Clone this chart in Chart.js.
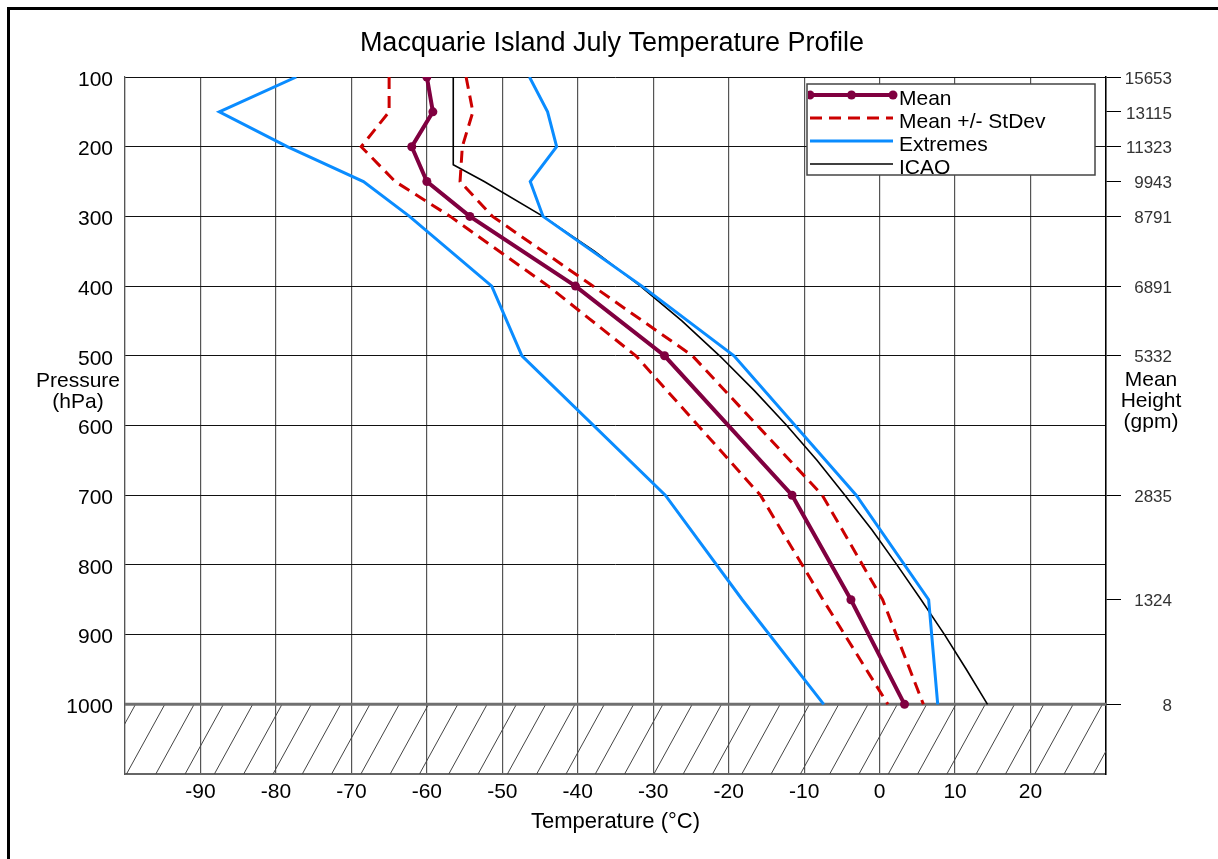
<!DOCTYPE html>
<html>
<head>
<meta charset="utf-8">
<script src="https://cdn.jsdelivr.net/npm/chart.js@4.4.1/dist/chart.umd.min.js"></script>
<style>
html,body{margin:0;padding:0;background:#fff;}
#wrap{position:relative;width:1218px;height:859px;overflow:hidden;background:#fff;}
#frame{position:absolute;left:7px;top:7px;width:3000px;height:3000px;border-top:3px solid #000;border-left:3px solid #000;pointer-events:none;}
canvas{position:absolute;left:0;top:0;}
</style>
</head>
<body>
<div id="wrap"><canvas id="c" width="1218" height="859"></canvas><div id="frame"></div></div>
<script>
// ---- data ----
const levels      = [100, 150, 200, 250, 300, 400, 500, 700, 850, 1000];   // hPa
const meanT       = [-60.0, -59.2, -62.0, -60.0, -54.3, -40.3, -28.5, -11.6, -3.8, 3.3];
const minusSdT    = [-65.0, -65.0, -68.7, -64.2, -56.9, -43.9, -32.3, -15.8, -7.5, 1.1];
const plusSdT     = [-54.8, -53.9, -55.3, -55.6, -51.3, -38.0, -24.8, -7.6, 0.4, 5.8];
const extremeLowT = [-77.3, -87.5, -78.5, -68.4, -62.3, -51.4, -47.4, -28.4, -18.2, -7.4];
const extremeHighT= [-46.4, -44.0, -42.8, -46.3, -44.6, -31.5, -19.3, -3.1, 6.5, 7.7];
const icaoP       = [100, 150, 200, 226, 250, 300, 350, 400, 450, 500, 550, 600, 650, 700, 750, 800, 850, 900, 950, 1000];
const icaoT       = [-56.5, -56.5, -56.5, -56.5, -52.4, -44.6, -37.8, -31.7, -26.2, -21.2, -16.6, -12.3, -8.3, -4.6, -1.0, 2.3, 5.5, 8.6, 11.5, 14.3];
const heightLevels = [100, 150, 200, 250, 300, 400, 500, 700, 850, 1000];
const heightLabels = ['15653', '13115', '11323', '9943', '8791', '6891', '5332', '2835', '1324', '8'];
const tempRange = [-100, 30];
const pressRange = [100, 1100];
const groundLevel = 1000;

const FONT = '"Liberation Sans", Arial, Helvetica, sans-serif';
const pts = (t, p) => t.map((v, i) => ({x: v, y: p[i]}));

const MAROON = '#800040', RED = '#cc0000', BLUE = '#0a8cff';

const hatchPlugin = {
  id: 'hatch',
  beforeDatasetsDraw(chart) {
    const {ctx, chartArea: a, scales: {y}} = chart;
    const yTop = y.getPixelForValue(groundLevel);
    const yBot = y.getPixelForValue(pressRange[1]);
    const h = yBot - yTop;
    ctx.save();
    ctx.beginPath();
    ctx.rect(a.left, yTop, a.right - a.left, h);
    ctx.clip();
    ctx.beginPath();
    ctx.strokeStyle = '#444';
    ctx.lineWidth = 1;
    const step = 29.3, dx = h * 0.55;
    for (let xb = a.left + 1.5 - 3 * step; xb < a.right + step; xb += step) {
      ctx.moveTo(xb, yBot);
      ctx.lineTo(xb + dx, yTop);
    }
    ctx.stroke();
    ctx.restore();
    ctx.save();
    ctx.beginPath();
    ctx.strokeStyle = '#707070';
    ctx.lineWidth = 3;
    ctx.moveTo(a.left, yTop);
    ctx.lineTo(a.right, yTop);
    ctx.stroke();
    ctx.restore();
  }
};

const sideTitles = {
  id: 'sideTitles',
  afterDraw(chart) {
    const {ctx, chartArea: a} = chart;
    ctx.save();
    ctx.fillStyle = '#000';
    ctx.font = '21px ' + FONT;
    ctx.textAlign = 'center';
    ctx.textBaseline = 'middle';
    ctx.fillText('Pressure', a.left - 47, a.top + 304);
    ctx.fillText('(hPa)', a.left - 47, a.top + 325);
    ctx.fillText('Mean', a.right + 45, a.top + 303);
    ctx.fillText('Height', a.right + 45, a.top + 324);
    ctx.fillText('(gpm)', a.right + 45, a.top + 345);
    ctx.restore();
  }
};

const boxLegend = {
  id: 'boxLegend',
  afterDraw(chart) {
    const {ctx, chartArea: a} = chart;
    const bx = a.right - 299, by = a.top + 7, bw = 288, bh = 91;
    ctx.save();
    ctx.fillStyle = '#fff';
    ctx.fillRect(bx, by, bw, bh);
    ctx.strokeStyle = '#444';
    ctx.lineWidth = 1.5;
    ctx.strokeRect(bx, by, bw, bh);
    ctx.beginPath();
    ctx.rect(bx + 1, by + 1, bw - 2, bh - 2);
    ctx.clip();
    const seen = new Set();
    let row = 0;
    chart.data.datasets.forEach(ds => {
      if (seen.has(ds.label)) return;
      seen.add(ds.label);
      const ly = by + 11 + row * 23;
      const x0 = bx + 3, x1 = bx + 86;
      ctx.beginPath();
      ctx.setLineDash(ds.borderDash || []);
      ctx.strokeStyle = ds.borderColor;
      ctx.lineWidth = ds.borderWidth;
      ctx.moveTo(x0, ly);
      ctx.lineTo(x1, ly);
      ctx.stroke();
      ctx.setLineDash([]);
      if (ds.pointRadius > 0) {
        [x0, (x0 + x1) / 2, x1].forEach(px => {
          ctx.beginPath();
          ctx.arc(px, ly, ds.pointRadius, 0, Math.PI * 2);
          ctx.fillStyle = ds.pointBackgroundColor;
          ctx.fill();
        });
      }
      ctx.fillStyle = '#000';
      ctx.font = '21px ' + FONT;
      ctx.textAlign = 'left';
      ctx.textBaseline = 'middle';
      ctx.fillText(ds.label, bx + 92, ly + 4);
      row++;
    });
    ctx.restore();
  }
};

const lineDs = (label, data, color, width, extra) => Object.assign({
  label, data, showLine: true, borderColor: color, backgroundColor: color,
  borderWidth: width, pointRadius: 0, pointHoverRadius: 0, fill: false, tension: 0
}, extra || {});

new Chart(document.getElementById('c'), {
  type: 'scatter',
  data: {
    datasets: [
      lineDs('Mean', pts(meanT, levels), MAROON, 4, {pointRadius: 4.5, pointBackgroundColor: MAROON, pointBorderColor: MAROON, pointBorderWidth: 0}),
      lineDs('Mean +/- StDev', pts(minusSdT, levels), RED, 3, {borderDash: [12, 7]}),
      lineDs('Mean +/- StDev', pts(plusSdT, levels), RED, 3, {borderDash: [12, 7]}),
      lineDs('Extremes', pts(extremeLowT, levels), BLUE, 3),
      lineDs('Extremes', pts(extremeHighT, levels), BLUE, 3),
      lineDs('ICAO', pts(icaoT, icaoP), '#000', 1.6)
    ]
  },
  options: {
    responsive: false,
    animation: false,
    devicePixelRatio: 1,
    layout: {padding: {left: 52, top: 0, bottom: 0, right: 46}},
    plugins: {
      legend: {display: false},
      tooltip: {enabled: false},
      title: {
        display: true,
        text: 'Macquarie Island July Temperature Profile',
        color: '#000',
        font: {family: FONT, size: 27, weight: 'normal', lineHeight: 1.2},
        padding: {top: 27.3, bottom: 17.3}
      }
    },
    scales: {
      x: {
        type: 'linear',
        position: 'bottom',
        min: tempRange[0], max: tempRange[1],
        afterFit(s) { s.height = 85; },
        ticks: {
          stepSize: 10, autoSkip: false, maxRotation: 0, padding: 6, color: '#000',
          font: {family: FONT, size: 21},
          callback: v => (v === tempRange[0] || v === tempRange[1]) ? '' : v
        },
        grid: {color: '#555', lineWidth: 1.2, drawTicks: false},
        border: {display: true, color: '#666', width: 2},
        title: {
          display: true, text: 'Temperature (°C)', color: '#000',
          font: {family: FONT, size: 22}, padding: {top: 0, bottom: 24}
        }
      },
      y: {
        type: 'linear',
        position: 'left',
        reverse: true,
        min: pressRange[0], max: pressRange[1],
        afterFit(s) { s.width = 73; },
        ticks: {
          stepSize: 100, padding: 12, labelOffset: 3, color: '#000',
          font: {family: FONT, size: 21},
          callback: v => v === pressRange[1] ? '' : v
        },
        grid: {color: '#111', lineWidth: 1, drawTicks: false},
        border: {display: true, color: '#555', width: 1.2}
      },
      y2: {
        type: 'linear',
        position: 'right',
        reverse: true,
        min: pressRange[0], max: pressRange[1],
        afterFit(s) { s.width = 66; },
        afterBuildTicks(s) { s.ticks = heightLevels.map(v => ({value: v})); },
        ticks: {
          padding: 3, crossAlign: 'far', labelOffset: 2, color: '#333', autoSkip: false,
          font: {family: FONT, size: 17},
          callback: (v, i) => heightLabels[i]
        },
        grid: {drawOnChartArea: false, drawTicks: true, tickLength: 15, color: '#000', lineWidth: 1},
        border: {display: true, color: '#000', width: 1.5}
      }
    }
  },
  plugins: [hatchPlugin, sideTitles, boxLegend]
});
</script>
</body>
</html>
